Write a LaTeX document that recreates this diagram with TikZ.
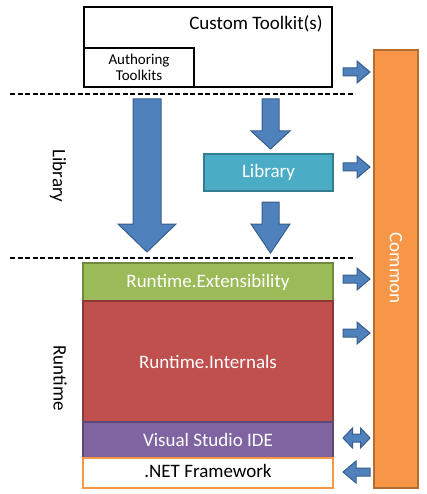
\documentclass[tikz,border=0pt]{standalone}
\usepackage{fontspec}
\setmainfont{Carlito}
\definecolor{arrfill}{RGB}{79,129,189}
\definecolor{arrdraw}{RGB}{56,93,138}
\definecolor{libfill}{RGB}{75,172,198}
\definecolor{libdraw}{RGB}{53,125,145}
\definecolor{extfill}{RGB}{155,187,89}
\definecolor{extdraw}{RGB}{113,137,63}
\definecolor{intfill}{RGB}{192,80,77}
\definecolor{intdraw}{RGB}{140,56,54}
\definecolor{vsfill}{RGB}{128,100,162}
\definecolor{vsdraw}{RGB}{92,71,118}
\definecolor{comfill}{RGB}{247,150,70}
\definecolor{comdraw}{RGB}{182,109,49}
\begin{document}
\begin{tikzpicture}[x=1pt,y=-1pt,
  big/.style={font=\fontsize{19}{23}\selectfont},
  small/.style={font=\fontsize{15}{16}\selectfont},
  box/.style={rectangle,inner sep=0pt,line width=1.5pt},
  outline/.style={box,draw=black,line width=1.8pt,fill=white},
  barrow/.style={fill=arrfill,draw=arrdraw,line width=1pt,line join=miter},
  sep/.style={draw=black,line width=2pt,dash pattern=on 5pt off 2.5pt},
  vlabel/.style={big,rotate=-90,inner sep=0pt},
  rarr/.pic={\draw[barrow] (-13.5,-4)--(0.5,-4)--(0.5,-11)--(13.5,0)--(0.5,11)--(0.5,4)--(-13.5,4)--cycle;},
  larr/.pic={\draw[barrow] (13.5,-4)--(-0.5,-4)--(-0.5,-11)--(-13.5,0)--(-0.5,11)--(-0.5,4)--(13.5,4)--cycle;},
  darr/.pic={\draw[barrow] (-4,-4)--(4,-4)--(4,-10)--(13.5,0)--(4,10)--(4,4)--(-4,4)--(-4,10)--(-13.5,0)--(-4,-10)--cycle;}
]
\useasboundingbox (0,0) rectangle (427,494);

% top boxes
\node[outline,minimum width=248pt,minimum height=80pt] (custom) at (208,47) {};
\node[big,inner sep=0pt] (customlbl) at (256,24) {Custom Toolkit(s)};
\node[outline,minimum width=110pt,minimum height=39pt,small,align=center] (authoring) at (139,67.5) {Authoring\\Toolkits};

% separators
\coordinate (s1a) at (10,94); \coordinate (s1b) at (355,94);
\coordinate (s2a) at (10,258); \coordinate (s2b) at (355,258);
\draw[sep] (s1a) -- (s1b);
\draw[sep] (s2a) -- (s2b);

% side labels
\node[vlabel] (liblbl) at (58,176) {Library};
\node[vlabel] (rtlbl) at (60,378) {Runtime};

% library box
\node[box,draw=libdraw,fill=libfill,minimum width=129pt,minimum height=37pt,big,text=white] (library) at (268.5,172.5) {Library};

% runtime stack
\node[box,draw=extdraw,fill=extfill,minimum width=250pt,minimum height=38pt,big,text=white] (ext) at (208,282) {Runtime.Extensibility};
\node[box,draw=intdraw,fill=intfill,minimum width=250pt,minimum height=121pt,big,text=white] (int) at (208,361.5) {Runtime.Internals};
\node[box,draw=vsdraw,fill=vsfill,minimum width=250pt,minimum height=36pt,big,text=white] (vs) at (208,440) {Visual Studio IDE};
\node[box,draw=comfill,fill=white,minimum width=250pt,minimum height=30pt,big,text=black,text depth=4pt] (net) at (208,473) {.NET Framework};

% common bar
\node[box,draw=comdraw,fill=comfill,minimum width=44pt,minimum height=438pt] (common) at (396,269) {};
\node[vlabel,text=white] (comlbl) at (396,268) {Common};

% big down arrows
\draw[barrow] (133,99)--(161,99)--(161,224)--(176,224)--(147,252)--(118,224)--(133,224)--cycle;
\draw[barrow] (262,99)--(279,99)--(279,131)--(290,131)--(270.5,149)--(251,131)--(262,131)--cycle;
\draw[barrow] (262,202)--(279,202)--(279,224)--(290,224)--(270.5,253)--(251,224)--(262,224)--cycle;

% small arrows to common
\pic at (356.5,72) {rarr};
\pic at (356.5,167) {rarr};
\pic at (356.5,279) {rarr};
\pic at (356.5,333) {rarr};
\pic at (356.5,438) {darr};
\pic at (356.5,472) {larr};
\end{tikzpicture}
\end{document}
